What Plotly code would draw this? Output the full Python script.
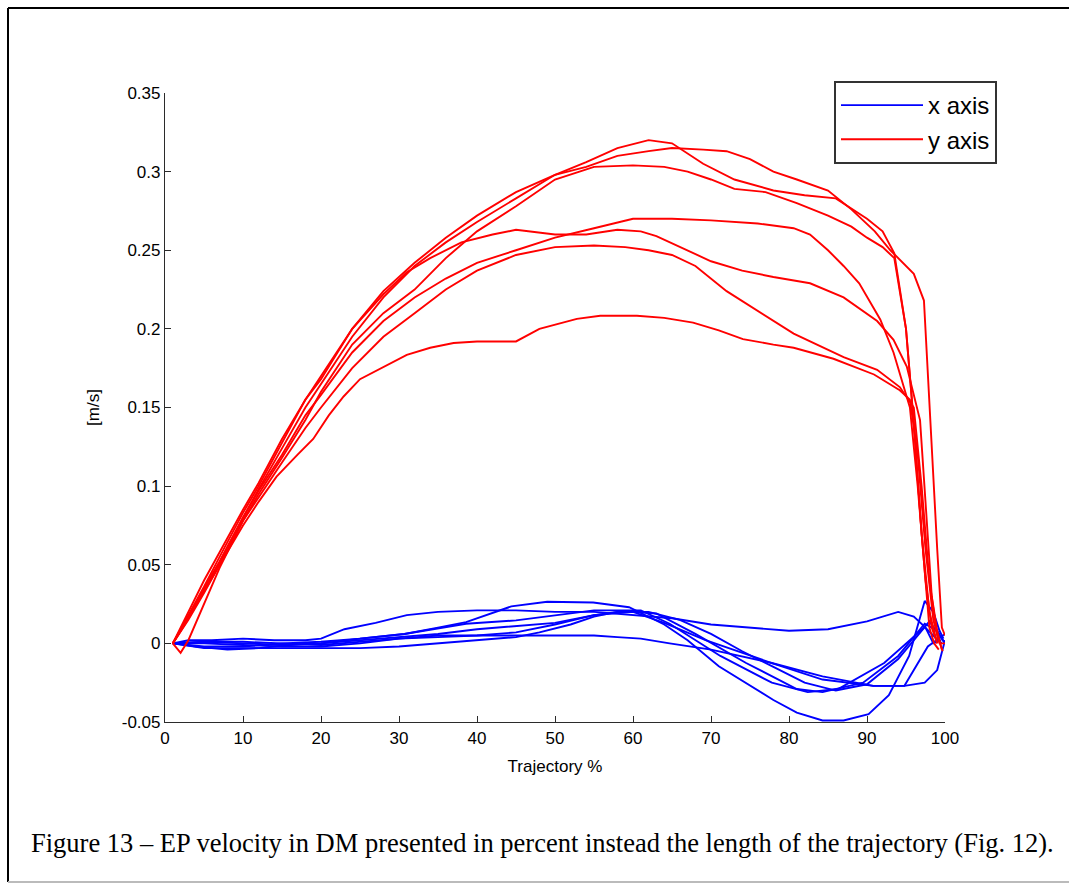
import plotly.graph_objects as go

# Trajectory percentage (x) and velocity [m/s] for seven trials, y-axis component
y1_pct = [1, 3, 5, 7, 10, 12, 15, 18, 20, 24, 28, 32, 36, 40, 45, 50, 54, 58, 62, 65, 69, 73, 78, 82, 86, 90, 92, 93.5, 95, 96, 97, 98, 99]
y1_vel = [0, 0.018, 0.036, 0.055, 0.083, 0.1, 0.128, 0.155, 0.168, 0.2, 0.224, 0.242, 0.258, 0.272, 0.287, 0.298, 0.306, 0.315, 0.32, 0.318, 0.305, 0.295, 0.288, 0.285, 0.283, 0.27, 0.262, 0.248, 0.2, 0.14, 0.07, 0.02, 0.0]

y2_pct = [1, 3, 5, 7, 10, 12, 15, 18, 20, 24, 28, 32, 36, 40, 45, 50, 54, 58, 62, 65, 69, 72, 75, 78, 81, 85, 88, 91, 93, 96, 97.3, 98, 99, 99.6, 100]
y2_vel = [0, 0.016, 0.034, 0.052, 0.08, 0.098, 0.124, 0.15, 0.165, 0.195, 0.22, 0.24, 0.255, 0.268, 0.283, 0.298, 0.303, 0.31, 0.313, 0.315, 0.314, 0.313, 0.308, 0.3, 0.295, 0.288, 0.276, 0.262, 0.25, 0.235, 0.218, 0.15, 0.06, 0.01, 0.005]

y3_pct = [1, 3, 5, 7, 10, 12, 15, 18, 20, 24, 28, 32, 36, 40, 45, 50, 55, 60, 64, 67, 70, 73, 77, 81, 85, 88, 90, 92, 93.5, 95, 96, 97, 98, 98.6, 99.2]
y3_vel = [0, 0.015, 0.032, 0.05, 0.078, 0.095, 0.118, 0.142, 0.16, 0.19, 0.21, 0.225, 0.245, 0.262, 0.278, 0.295, 0.303, 0.304, 0.303, 0.3, 0.295, 0.289, 0.287, 0.28, 0.272, 0.265, 0.258, 0.252, 0.245, 0.2, 0.14, 0.07, 0.01, 0.0, -0.004]

y4_pct = [1, 3, 5, 7, 10, 12, 15, 18, 20, 24, 28, 32, 36, 40, 45, 50, 55, 60, 65, 70, 76, 80.6, 82.7, 85, 87, 89, 91.7, 93.4, 95.5, 96.5, 97.5, 98.3, 99]
y4_vel = [0, 0.017, 0.035, 0.052, 0.08, 0.097, 0.12, 0.145, 0.158, 0.185, 0.205, 0.22, 0.232, 0.242, 0.25, 0.258, 0.264, 0.27, 0.27, 0.269, 0.267, 0.264, 0.26, 0.25, 0.24, 0.229, 0.206, 0.185, 0.15, 0.1, 0.04, 0.01, 0.0]

y5_pct = [1, 3, 5, 7, 10, 12, 15, 18, 20, 24, 28, 31, 34, 38, 42, 45, 50, 54, 58, 61, 63, 66, 70, 74, 78, 82.7, 87, 91.3, 93.4, 95.1, 96.8, 97.5, 98.3, 99, 99.6]
y5_vel = [0, 0.02, 0.04, 0.058, 0.085, 0.102, 0.13, 0.155, 0.17, 0.2, 0.222, 0.236, 0.245, 0.255, 0.26, 0.263, 0.26, 0.26, 0.263, 0.262, 0.259, 0.252, 0.243, 0.237, 0.233, 0.229, 0.22, 0.205, 0.193, 0.176, 0.142, 0.09, 0.03, 0.008, -0.004]

y6_pct = [1, 2, 3, 5, 7, 10, 12, 15, 18, 20, 24, 28, 32, 36, 40, 45, 50, 55, 59, 62, 65, 68, 72, 77, 80.6, 84, 87, 91.3, 94.2, 96, 97, 98, 99, 99.7]
y6_vel = [0, -0.006, 0.002, 0.025, 0.048, 0.078, 0.093, 0.115, 0.137, 0.15, 0.175, 0.195, 0.21, 0.225, 0.237, 0.247, 0.252, 0.253, 0.252, 0.25, 0.247, 0.24, 0.224, 0.208, 0.197, 0.189, 0.182, 0.174, 0.163, 0.15, 0.1, 0.04, 0.005, -0.005]

y7_pct = [1, 3, 5, 7, 10, 12, 14.3, 17, 19, 21, 22.9, 25, 28, 31, 34, 37, 40, 45, 48, 52.8, 55.8, 60.5, 64, 67.7, 71, 74.1, 78, 80.6, 85.7, 90.9, 94.2, 95.5, 96.5, 97.5, 98.5, 99.3, 100]
y7_vel = [0, 0.016, 0.033, 0.05, 0.075, 0.09, 0.106, 0.12, 0.13, 0.145, 0.157, 0.168, 0.176, 0.1835, 0.188, 0.191, 0.192, 0.192, 0.2, 0.2064, 0.2083, 0.2083, 0.207, 0.204, 0.199, 0.1935, 0.19, 0.188, 0.181, 0.171, 0.161, 0.155, 0.12, 0.06, 0.015, 0.0, 0.0]

# x-axis component for the same seven trials
x1_pct = [1, 3, 6, 10, 14, 18, 20, 23, 27, 31, 35, 40, 45, 50, 55, 60, 65, 70, 75, 80, 85, 90, 94, 96, 97.5, 98.5, 99.5]
x1_vel = [0, 0.002, 0.002, 0.003, 0.002, 0.002, 0.003, 0.009, 0.013, 0.018, 0.02, 0.021, 0.021, 0.02, 0.02, 0.018, 0.016, 0.012, 0.01, 0.008, 0.009, 0.014, 0.02, 0.017, 0.01, 0.0, 0.002]

x2_pct = [1, 4, 8, 12, 16, 20, 25, 30.7, 35, 38.6, 44.4, 49, 54.9, 59.5, 64, 67, 71, 74, 78, 81, 84.3, 87, 90.2, 92.8, 95.4, 97.4, 98.5, 99.3, 99.8]
x2_vel = [0, -0.002, -0.004, -0.003, -0.001, 0.0, 0.003, 0.006, 0.01, 0.0135, 0.0235, 0.0265, 0.026, 0.023, 0.012, 0.002, -0.0146, -0.024, -0.036, -0.044, -0.049, -0.049, -0.045, -0.033, -0.008, 0.027, 0.02, 0.008, 0.003]

x3_pct = [1, 5, 10, 15, 20, 25, 30.7, 38.6, 45, 51.6, 55, 61, 64.7, 71.2, 77.8, 82.4, 86.3, 92.2, 97.4, 98.7, 99.6]
x3_vel = [0, 0.001, 0.001, 0.0, 0.001, 0.003, 0.006, 0.0125, 0.0146, 0.019, 0.021, 0.021, 0.0125, -0.008, -0.025, -0.031, -0.029, -0.0125, 0.0104, 0.004, 0.0]

x4_pct = [1, 5, 10, 15, 20, 25, 30, 35, 40, 45, 50, 55, 58, 60, 64, 69.3, 77.8, 84.3, 90.8, 94.8, 97.4, 99, 100]
x4_vel = [0, -0.002, -0.002, 0.0, -0.001, 0.001, 0.003, 0.004, 0.005, 0.007, 0.012, 0.018, 0.02, 0.02, 0.013, 0.002, -0.0125, -0.023, -0.027, -0.027, -0.025, -0.017, 0.002]

x5_pct = [1, 5, 10, 15, 20, 25, 30, 35, 40, 45, 50, 55, 60, 63, 68, 74.5, 81, 84.3, 89.5, 94, 97.4, 99, 100]
x5_vel = [0, 0.001, 0.0, -0.001, 0.0, 0.002, 0.004, 0.006, 0.009, 0.011, 0.013, 0.018, 0.02, 0.019, 0.006, -0.0125, -0.029, -0.031, -0.025, -0.008, 0.0125, 0.008, 0.0]

x6_pct = [1, 5, 10, 15, 20, 25, 30, 35, 40, 45, 50, 55, 58, 61, 64.7, 70, 77.8, 84.3, 90.8, 94.8, 97.8, 100]
x6_vel = [0, 0.0, -0.001, -0.002, -0.002, 0.0, 0.003, 0.005, 0.005, 0.005, 0.005, 0.005, 0.004, 0.003, 0.0, -0.004, -0.0125, -0.021, -0.027, -0.027, -0.002, 0.006]

x7_pct = [1, 5, 10, 15, 20, 25, 30, 35, 40, 45, 48, 52, 55, 58, 62, 66, 70, 74, 78, 82, 86, 90, 94, 96.5, 98, 99.3, 100]
x7_vel = [0, -0.003, -0.003, -0.003, -0.003, -0.003, -0.002, 0.0, 0.002, 0.004, 0.007, 0.012, 0.017, 0.02, 0.02, 0.015, 0.006, -0.005, -0.015, -0.025, -0.03, -0.026, -0.01, 0.005, 0.014, 0.005, 0.0]

x_series = [(x1_pct, x1_vel), (x2_pct, x2_vel), (x3_pct, x3_vel), (x4_pct, x4_vel),
            (x5_pct, x5_vel), (x6_pct, x6_vel), (x7_pct, x7_vel)]
y_series = [(y1_pct, y1_vel), (y2_pct, y2_vel), (y3_pct, y3_vel), (y4_pct, y4_vel),
            (y5_pct, y5_vel), (y6_pct, y6_vel), (y7_pct, y7_vel)]

x_tick_vals = [0, 10, 20, 30, 40, 50, 60, 70, 80, 90, 100]
y_tick_vals = [-0.05, 0, 0.05, 0.1, 0.15, 0.2, 0.25, 0.3, 0.35]
y_tick_text = ["-0.05", "0", "0.05", "0.1", "0.15", "0.2", "0.25", "0.3", "0.35"]

caption = ("Figure 13 \u2013 EP velocity in DM presented in percent instead the length "
           "of the trajectory (Fig. 12).")

fig = go.Figure()

for i, (px, pv) in enumerate(x_series):
    fig.add_trace(go.Scatter(x=px, y=pv, mode="lines", line=dict(color="#0000ff", width=1.9),
                             name="x axis", legendgroup="x", showlegend=(i == 0)))
for i, (px, pv) in enumerate(y_series):
    fig.add_trace(go.Scatter(x=px, y=pv, mode="lines", line=dict(color="#ff0000", width=1.9),
                             name="y axis", legendgroup="y", showlegend=(i == 0)))

W, H = 1069, 884
L, R, T, B = 165, 945, 93, 722  # plot area in pixels
pw, ph = R - L, B - T


def px_x(p):
    return (p - L) / pw


def px_y(p):
    return (B - p) / ph


axis_col = "#2b2b2b"
tick_font = dict(family="Liberation Sans, Arial", size=17, color="#000000")

fig.update_layout(
    width=W, height=H,
    margin=dict(l=L, r=W - R, t=T, b=H - B),
    paper_bgcolor="white", plot_bgcolor="white",
    xaxis=dict(range=[0, 100], tickvals=x_tick_vals, ticks="inside", ticklen=6,
               tickcolor=axis_col, showline=True, linecolor=axis_col, linewidth=1.2,
               showgrid=False, zeroline=False, tickfont=tick_font,
               title=dict(text="Trajectory %", font=dict(family="Liberation Sans, Arial", size=17, color="#000"),
                          standoff=13)),
    yaxis=dict(range=[-0.05, 0.35], tickvals=y_tick_vals, ticktext=y_tick_text, ticks="inside",
               ticklen=6, tickcolor=axis_col, showline=True, linecolor=axis_col, linewidth=1.2,
               showgrid=False, zeroline=False, tickfont=tick_font,
               title=dict(text="[m/s]", font=dict(family="Liberation Sans, Arial", size=17, color="#000"),
                          standoff=17)),
    legend=dict(x=px_x(834), y=px_y(81), xanchor="left", yanchor="top",
                bordercolor="#333333", borderwidth=2, bgcolor="white",
                font=dict(family="Liberation Sans, Arial", size=24, color="#000"),
                itemwidth=82, tracegroupgap=0),
    shapes=[
        # page frame: left, top and bottom rules
        dict(type="line", xref="paper", yref="paper", x0=px_x(8), x1=px_x(8), y0=px_y(8), y1=px_y(882),
             line=dict(color="#000000", width=2)),
        dict(type="line", xref="paper", yref="paper", x0=px_x(8), x1=px_x(1069), y0=px_y(8), y1=px_y(8),
             line=dict(color="#000000", width=2)),
        dict(type="line", xref="paper", yref="paper", x0=px_x(8), x1=px_x(1069), y0=px_y(882), y1=px_y(882),
             line=dict(color="#bbbbbb", width=2)),
    ],
    annotations=[
        dict(text=caption, xref="paper", yref="paper", x=px_x(542), y=px_y(843),
             xanchor="center", yanchor="middle", showarrow=False,
             font=dict(family="Liberation Serif, Times New Roman", size=26.5, color="#000")),
    ],
)

fig.write_html("out.html")
